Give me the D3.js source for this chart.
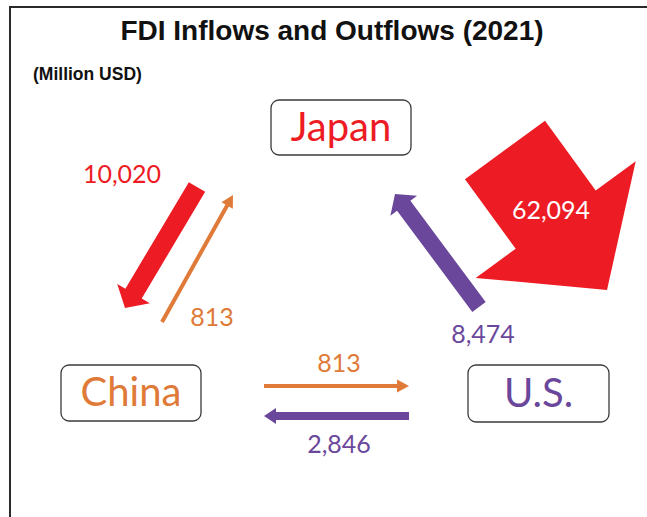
<!DOCTYPE html>
<html>
<head>
<meta charset="utf-8">
<script src="https://cdn.jsdelivr.net/npm/d3@7"></script>
<style>
  html, body { margin: 0; padding: 0; background: #fff; }
  svg { display: block; }
</style>
</head>
<body>
<svg id="chart" width="647" height="517"></svg>
<script>
// ---- data ----
const countries = ["Japan", "China", "U.S."];
const countryColors = ["#ED1C24", "#E07A38", "#6A479B"];
const flowSources = ["Japan", "China", "U.S.", "Japan", "China", "U.S."];
const flowTargets = ["China", "Japan", "Japan", "U.S.", "U.S.", "China"];
const flowValues  = [10020, 813, 8474, 62094, 813, 2846];
const titleText = "FDI Inflows and Outflows (2021)";
const unitText = "(Million USD)";

// ---- layout (positions only) ----
const nodeBoxes = {
  "Japan": {x: 271, y: 100, w: 140, h: 55},
  "China": {x: 61,  y: 365, w: 140, h: 56},
  "U.S.":  {x: 468, y: 365, w: 141, h: 57}
};
// arrow tail / tip and label anchor per flow (same order as data)
const arrowGeom = [
  {tail: [197, 187], tip: [125, 308], label: [122, 183], labelColor: null},
  {tail: [162, 322], tip: [233, 195], label: [212, 326], labelColor: null},
  {tail: [479, 307], tip: [395, 194], label: [483, 343], labelColor: null},
  {tail: [505, 150], tip: [607, 290], label: [551, 219], labelColor: "#ffffff"},
  {tail: [264, 386], tip: [409, 386], label: [339, 372], labelColor: null},
  {tail: [409, 416], tip: [264, 416], label: [339, 453], labelColor: null}
];

const svg = d3.select("#chart");
const color = d3.scaleOrdinal().domain(countries).range(countryColors);
const widthScale = d3.scaleLinear()
  .domain([813, 2846, 10020, 62094])
  .range([4, 8, 19, 99]);
const fmt = d3.format(",");

// frame
svg.append("path")
  .attr("d", "M10,517 L10,7 L647,7")
  .attr("fill", "none")
  .attr("stroke", "#2a2a2a")
  .attr("stroke-width", 2);

// title
svg.append("text")
  .attr("x", 332).attr("y", 40)
  .attr("text-anchor", "middle")
  .attr("font-family", "'Liberation Sans', Arial, sans-serif")
  .attr("font-weight", "bold")
  .attr("font-size", 28)
  .attr("fill", "#111")
  .text(titleText);

svg.append("text")
  .attr("x", 33).attr("y", 80)
  .attr("font-family", "'Liberation Sans', Arial, sans-serif")
  .attr("font-weight", "bold")
  .attr("font-size", 17.5)
  .attr("fill", "#111")
  .text(unitText);

// arrows
function arrowPath(tail, tip, w) {
  const dx = tip[0] - tail[0], dy = tip[1] - tail[1];
  const len = Math.hypot(dx, dy);
  const ux = dx / len, uy = dy / len;
  const nx = -uy, ny = ux;
  const headW = Math.max(2 * w, 13);
  const headL = Math.max(0.88 * w, 12);
  const bx = tip[0] - ux * headL, by = tip[1] - uy * headL;
  const p = [
    [tail[0] + nx * w / 2, tail[1] + ny * w / 2],
    [bx + nx * w / 2, by + ny * w / 2],
    [bx + nx * headW / 2, by + ny * headW / 2],
    tip,
    [bx - nx * headW / 2, by - ny * headW / 2],
    [bx - nx * w / 2, by - ny * w / 2],
    [tail[0] - nx * w / 2, tail[1] - ny * w / 2]
  ];
  return d3.line()(p) + "Z";
}

const flows = flowValues.map((v, i) => ({
  source: flowSources[i], target: flowTargets[i], value: v, g: arrowGeom[i]
}));

svg.append("g").selectAll("path")
  .data(flows)
  .join("path")
  .attr("d", d => arrowPath(d.g.tail, d.g.tip, widthScale(d.value)))
  .attr("fill", d => color(d.source));

svg.append("g").selectAll("text")
  .data(flows)
  .join("text")
  .attr("x", d => d.g.label[0])
  .attr("y", d => d.g.label[1])
  .attr("text-anchor", "middle")
  .attr("font-family", "Lato, 'Open Sans', sans-serif")
  .attr("font-size", 25)
  .attr("fill", d => d.g.labelColor || color(d.source))
  .text(d => fmt(d.value));

// nodes
const nodes = svg.append("g").selectAll("g")
  .data(countries)
  .join("g");

nodes.append("rect")
  .attr("x", d => nodeBoxes[d].x)
  .attr("y", d => nodeBoxes[d].y)
  .attr("width", d => nodeBoxes[d].w)
  .attr("height", d => nodeBoxes[d].h)
  .attr("rx", 8)
  .attr("fill", "#fff")
  .attr("stroke", "#3a3a3a")
  .attr("stroke-width", 1.3);

nodes.append("text")
  .attr("x", d => nodeBoxes[d].x + nodeBoxes[d].w / 2)
  .attr("y", d => nodeBoxes[d].y + nodeBoxes[d].h / 2 + 13)
  .attr("text-anchor", "middle")
  .attr("font-family", "Lato, 'Open Sans', sans-serif")
  .attr("font-size", 40)
  .attr("fill", d => color(d))
  .text(d => d);
</script>
</body>
</html>
